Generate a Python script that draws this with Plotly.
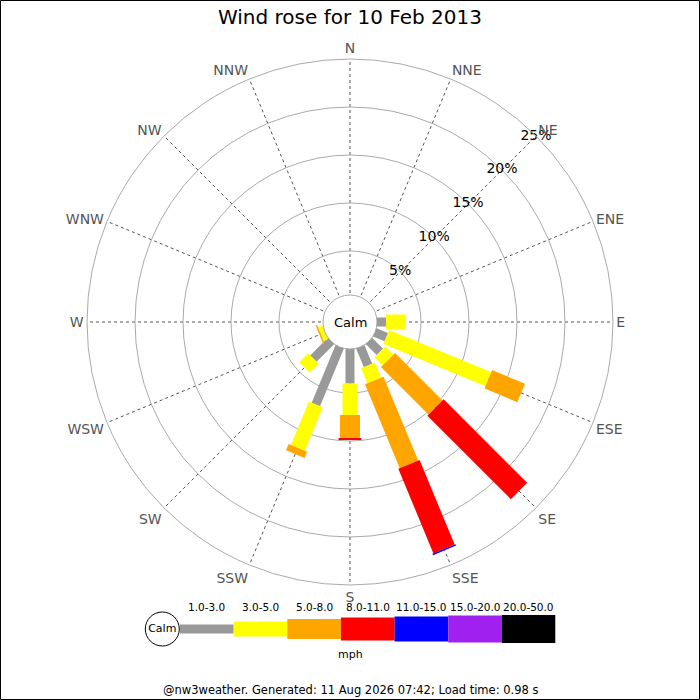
import plotly.graph_objects as go

# ---------------- data ----------------
directions = ["N", "NNE", "NE", "ENE", "E", "ESE", "SE", "SSE",
              "S", "SSW", "SW", "WSW", "W", "WNW", "NW", "NNW"]
speed_bins = ["1.0-3.0", "3.0-5.0", "5.0-8.0", "8.0-11.0",
              "11.0-15.0", "15.0-20.0", "20.0-50.0"]
# percentage of time per direction for each speed bin
pct_1_3   = [0, 0, 0, 0, 1.35, 1.70, 2.00, 2.50, 4.00, 6.90, 3.00, 0.40, 0, 0, 0, 0]
pct_3_5   = [0, 0, 0, 0, 2.05, 11.50, 1.20, 1.70, 3.30, 4.90, 1.30, 0.50, 0, 0, 0, 0]
pct_5_8   = [0, 0, 0, 0, 0, 3.70, 7.00, 9.45, 2.40, 0.70, 0, 0.15, 0, 0, 0, 0]
pct_8_11  = [0, 0, 0, 0, 0, 0, 12.30, 9.55, 0.20, 0, 0, 0, 0, 0, 0, 0]
pct_11_15 = [0, 0, 0, 0, 0, 0, 0, 0.15, 0, 0, 0, 0, 0, 0, 0, 0]
pct_15_20 = [0] * 16
pct_20_50 = [0] * 16
radial_ticks = [5, 10, 15, 20, 25]
radial_tick_labels = ["5%", "10%", "15%", "20%", "25%"]

title_text = "Wind rose for 10 Feb 2013"
footer_text = "@nw3weather. Generated: 11 Aug 2026 07:42; Load time: 0.98 s"
unit_text = "mph"

# ---------------- styles ----------------
series = [pct_1_3, pct_3_5, pct_5_8, pct_8_11, pct_11_15, pct_15_20, pct_20_50]
colors = ["#999999", "#ffff00", "#ffa500", "#ff0000", "#0000ff", "#a020f0", "#000000"]
widths = [9, 15, 20, 23, 25, 27, 28]
FONT = "DejaVu Sans"

W = H = 700
CX, CY = 350, 322          # pixel centre of rose
R_OUT = 263                # outer ring radius (px)
R_HOLE = 23                # zero radius (px)
R_CALM = 27

angles = [i * 360 / len(directions) for i in range(len(directions))]

fig = go.Figure()

# rose bars as thick radial line segments (constant pixel width)
cum = [0.0] * len(directions)
for vals, col, w in zip(series, colors, widths):
    rr, tt = [], []
    for i, v in enumerate(vals):
        if v > 0:
            rr += [cum[i], cum[i] + v, None]
            tt += [angles[i], angles[i], None]
            cum[i] += v
    if rr:
        fig.add_trace(go.Scatterpolar(r=rr, theta=tt, mode="lines",
                                      line=dict(color=col, width=w),
                                      hoverinfo="skip", showlegend=False,
                                      connectgaps=False))

# radial tick labels on the NE spoke
fig.add_trace(go.Scatterpolar(r=radial_ticks, theta=[45] * len(radial_ticks),
                              mode="text", text=radial_tick_labels,
                              textfont=dict(family=FONT, size=14, color="#000"),
                              hoverinfo="skip", showlegend=False))

# ---------------- legend strip (cartesian) ----------------
for i, (col, w) in enumerate(zip(colors, widths)):
    fig.add_trace(go.Scatter(x=[i, i + 1], y=[0, 0], mode="lines",
                             line=dict(color=col, width=w),
                             xaxis="x", yaxis="y", hoverinfo="skip",
                             showlegend=False))
fig.add_trace(go.Scatter(x=[-0.33], y=[0], mode="markers+text", text=["Calm"],
                         textposition="middle center",
                         textfont=dict(family=FONT, size=11, color="#000"),
                         marker=dict(size=34, color="white",
                                     line=dict(color="#000", width=1)),
                         xaxis="x", yaxis="y", hoverinfo="skip",
                         showlegend=False))

leg_x0_px, seg_px = 180, 53.65
xr = [-0.7, 7]
xdom = [(leg_x0_px + xr[0] * seg_px) / W, (leg_x0_px + xr[1] * seg_px) / W]
leg_cy = 629
ydom = [1 - (leg_cy + 20) / H, 1 - (leg_cy - 20) / H]

annotations = []
for i, lab in enumerate(speed_bins):
    annotations.append(dict(x=i + 0.5, xref="x", y=1 - 607 / H, yref="paper",
                            yanchor="middle", text=lab, showarrow=False,
                            font=dict(family=FONT, size=10.5, color="#000")))
annotations.append(dict(x=0.5, y=1 - 654 / H, xref="paper", yref="paper",
                        yanchor="middle", text=unit_text, showarrow=False,
                        font=dict(family=FONT, size=11, color="#000")))
annotations.append(dict(x=CX / W, y=1 - CY / H, xref="paper", yref="paper",
                        yanchor="middle", text="Calm", showarrow=False,
                        font=dict(family=FONT, size=13, color="#000")))
annotations.append(dict(x=0.5, y=1 - 690 / H, xref="paper", yref="paper",
                        yanchor="middle", text=footer_text, showarrow=False,
                        font=dict(family=FONT, size=11.5, color="#000")))

shapes = [
    dict(type="circle", xref="paper", yref="paper", layer="above",
         x0=(CX - R_CALM) / W, x1=(CX + R_CALM) / W,
         y0=1 - (CY + R_CALM) / H, y1=1 - (CY - R_CALM) / H,
         fillcolor="white", line=dict(color="#aaaaaa", width=1)),
    dict(type="rect", xref="paper", yref="paper", layer="above",
         x0=0.5 / W, x1=1 - 0.5 / W, y0=0.5 / H, y1=1 - 0.5 / H,
         line=dict(color="#000000", width=1)),
]

fig.update_layout(
    width=W, height=H,
    margin=dict(l=0, r=0, t=0, b=0),
    paper_bgcolor="white", plot_bgcolor="white",
    font=dict(family=FONT),
    title=dict(text=title_text, x=0.5, xanchor="center", y=1 - 17 / H,
               yanchor="middle", font=dict(family=FONT, size=20, color="#000")),
    polar=dict(
        domain=dict(x=[(CX - R_OUT) / W, (CX + R_OUT) / W],
                    y=[1 - (CY + R_OUT) / H, 1 - (CY - R_OUT) / H]),
        bgcolor="white",
        hole=R_HOLE / R_OUT,
        radialaxis=dict(range=[0, 25], tickvals=radial_ticks,
                        showticklabels=False, ticks="", showline=False,
                        gridcolor="#aaaaaa", gridwidth=1, angle=45),
        angularaxis=dict(direction="clockwise", rotation=90,
                         tickmode="array", tickvals=angles, ticktext=directions,
                         ticks="", showline=True, linecolor="#aaaaaa",
                         gridcolor="#555555", griddash="dot", gridwidth=1,
                         tickfont=dict(family=FONT, size=14, color="#555555")),
    ),
    xaxis=dict(domain=xdom, range=xr, visible=False, fixedrange=True),
    yaxis=dict(domain=ydom, range=[-1, 1], visible=False, fixedrange=True),
    annotations=annotations,
    shapes=shapes,
)

fig.write_html("out.html",
               config={"displayModeBar": False, "staticPlot": True},
               post_script="document.body.style.margin='0';"
                           "document.body.style.overflow='hidden';")
